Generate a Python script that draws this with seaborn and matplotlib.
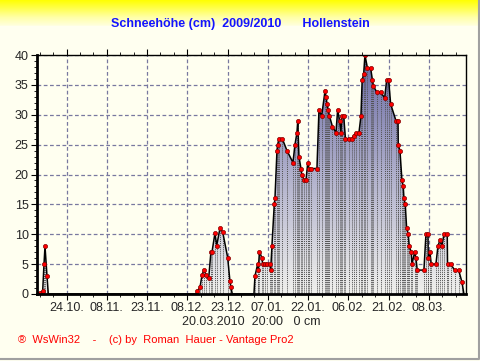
import numpy as np
import pandas as pd
import matplotlib
matplotlib.use("Agg")
import matplotlib.pyplot as plt
import seaborn as sns
from matplotlib.colors import LinearSegmentedColormap

# days since 13.10.2009 and snow depth in cm
days = [0.0, 1.12, 2.12, 2.61, 2.98, 3.72, 4.21,
        59.2, 59.78, 60.71, 61.45, 62.2, 63.05, 63.95, 64.8, 65.18, 66.29, 66.93,
        68.16, 69.16, 71.02, 71.88, 72.25, 72.74,
        80.82, 81.19, 82.2, 82.42, 82.87, 83.8, 84.06, 84.92, 85.66, 86.78, 87.04,
        87.52, 88.38, 88.64, 89.39, 89.65, 90.13, 91.36, 93.11, 95.34, 96.09, 96.83,
        97.13, 97.58, 98.32, 98.62, 99.63, 100.19, 100.86, 101.3, 102.05, 104.28,
        105.03, 106.03, 107.26, 107.75, 108.01, 108.49, 108.94, 110.06, 111.36,
        111.99, 112.74, 113.22, 113.48, 114.23, 114.9, 116.2, 117.21, 117.95,
        118.92, 119.93, 120.67, 121.12, 121.68, 122.16, 123.09, 124.28, 124.95,
        125.33, 126.52, 128.01, 129.5, 130.24, 130.99, 131.73, 133.71, 134.45,
        134.56, 135.2, 135.94, 136.42, 136.69, 137.17, 137.69, 138.29, 138.66,
        139.4, 139.66, 140.67, 141.15, 141.64, 144.13, 144.88, 145.62, 145.74,
        146.37, 146.85, 148.6, 149.35, 150.09, 150.84, 151.58, 152.81, 152.92,
        154.08, 155.57, 157.06, 158.29, 159.03]
snow = [0, 0.2, 0.5, 5, 8, 3, 0,
        0, 0.5, 1.1, 3.1, 4.1, 3.1, 2.6, 7.1, 7, 10.2, 8.1,
        11, 10.4, 6.1, 2.1, 1.1, 0,
        0, 3, 5, 4, 7.1, 6, 5, 5, 5, 5, 4,
        8.1, 15, 16, 24, 25, 26, 26, 24, 22, 25, 27,
        29, 23, 21, 20, 19, 19, 22, 21, 21, 21,
        30.8, 29.8, 33.9, 32.9, 31.8, 30.8, 29.8, 28, 27,
        30.8, 29, 27, 29.8, 29.8, 26, 26, 26, 26.5,
        27, 27, 29.8, 35.8, 36.8, 40, 37.8, 37.8, 35.8,
        34.8, 33.8, 33.8, 32.8, 35.8, 35.8, 31.8, 29, 29,
        25, 24, 19, 18, 16, 15, 11, 10, 8,
        7, 5, 7, 6, 4, 4, 10, 10, 6,
        7, 5, 5, 8, 9, 8, 10, 10, 5,
        5, 4, 4, 2, 0]

tick_days = [11, 26, 41, 56, 71, 86, 101, 116, 131, 146]
tick_labels = ["24.10.", "08.11.", "23.11.", "08.12.", "23.12.",
               "07.01.", "22.01.", "06.02.", "21.02.", "08.03."]

title = "Schneehöhe (cm)  2009/2010      Hollenstein"
sub = "20.03.2010  20:00   0 cm"
footer = "®  WsWin32    -    (c) by  Roman  Hauer - Vantage Pro2"

df = pd.DataFrame({"day": days, "snow": snow})

sns.set_style("white")
plt.rcParams["font.family"] = ["Liberation Sans", "DejaVu Sans"]

fig = plt.figure(figsize=(4.81, 3.61), dpi=100)

# yellow gradient background
bg = fig.add_axes([0, 0, 1, 1], zorder=-5)
bg.axis("off")
grad = np.linspace(0, 1, 300).reshape(-1, 1)
bg_cmap = LinearSegmentedColormap.from_list("bg", ["#ffff00", "#ffff50", "#ffffa8", "#ffffe0"])
bg.imshow(grad, aspect="auto", cmap=bg_cmap, extent=[0, 1, 335 / 361, 1], origin="upper")
bg.axhspan(0, 335 / 361, color="#fffff0")
bg.set_xlim(0, 1)
bg.set_ylim(0, 1)
bg.plot([0, 0.996, 0.996], [0.006, 0.006, 1], color="#a0a0a0", lw=1.5)

ax = fig.add_axes([37 / 481, 1 - 294 / 361, 429 / 481, 239 / 361])
ax.patch.set_alpha(0)

# gradient fill clipped to the area under the curve
poly = ax.fill_between(df["day"], df["snow"], 0, color="none", lw=0)
fill_cmap = LinearSegmentedColormap.from_list("fill", ["#f0f0ec", "#b0b0cc", "#6a6aa4"])
img = ax.imshow(np.linspace(1, 0, 200).reshape(-1, 1), aspect="auto", cmap=fill_cmap,
                extent=[0, 159.8, 0, 40], origin="upper", zorder=1)
img.set_clip_path(poly.get_paths()[0], transform=ax.transData)
ax.vlines(df["day"], 0, df["snow"], colors="#505050", linestyles=(0, (1, 1)), lw=0.7, zorder=2)

sns.lineplot(data=df, x="day", y="snow", ax=ax, color="black", lw=1.1,
             estimator=None, sort=False, zorder=3)
sns.scatterplot(data=df[df["snow"] > 0], x="day", y="snow", ax=ax, color="#ff0000",
                edgecolor="#800000", s=9, linewidth=0.5, zorder=4)

ax.set_xlim(0, 159.8)
ax.set_ylim(0, 40)
ax.set_xticks(tick_days)
ax.set_xticklabels(tick_labels)
ax.set_xticks(np.arange(1, 160, 5), minor=True)
ax.set_yticks(range(0, 41, 5))
ax.set_yticks(range(0, 41, 1), minor=True)
ax.grid(True, which="major", color="#7878a0", ls=(0, (3, 2)), lw=0.9)
ax.set_xlabel(sub, fontsize=9, labelpad=1)
ax.set_ylabel("")
ax.tick_params(axis="both", which="major", labelsize=9, length=4, width=0.8,
               direction="out", color="black", pad=2, bottom=True, left=True)
ax.tick_params(axis="both", which="minor", length=2, width=0.6,
               direction="out", color="black", bottom=True, left=True)
ax.tick_params(axis="x", which="both", top=True)
for s in ["left", "bottom"]:
    ax.spines[s].set_linewidth(2)
for s in ["top", "right"]:
    ax.spines[s].set_linewidth(1)
for s in ax.spines.values():
    s.set_color("black")
    s.set_zorder(5)

fig.text(0.5, 1 - 24 / 361, title, ha="center", va="center", color="#1414ff",
         fontsize=9, fontweight="bold")
fig.text(18 / 481, 1 - 340 / 361, footer, ha="left", va="center", color="#ff0000",
         fontsize=8)

fig.savefig("out.png", dpi=100)
